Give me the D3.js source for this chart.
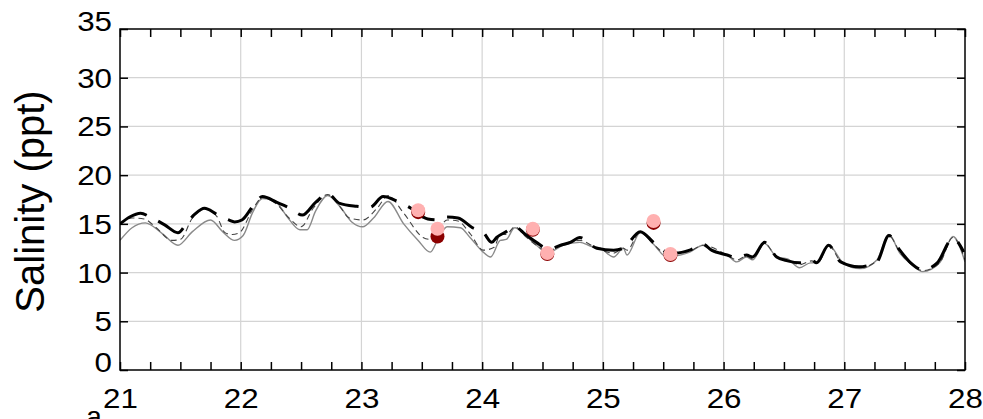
<!DOCTYPE html>
<html><head><meta charset="utf-8">
<script src="https://cdn.jsdelivr.net/npm/d3@7/dist/d3.min.js"></script>
<style>
html,body{margin:0;padding:0;background:#fff;}
svg{display:block;font-family:"Liberation Sans",Arial,sans-serif;}
</style></head>
<body>
<svg id="chart" width="983" height="419"></svg>
<script>
// ---- data ----
const xTicks = [21,22,23,24,25,26,27,28];
const yTicks = [0,5,10,15,20,25,30,35];
const yLabel = "Salinity (ppt)";

// thin solid gray series
const solidT = [21.00,21.10,21.21,21.35,21.48,21.60,21.75,21.85,21.95,22.02,22.10,22.18,22.28,22.38,22.49,22.55,22.62,22.72,22.82,22.92,23.01,23.10,23.22,23.35,23.47,23.57,23.64,23.71,23.82,23.90,24.00,24.07,24.15,24.20,24.27,24.36,24.45,24.54,24.67,24.81,24.90,24.98,25.09,25.17,25.20,25.31,25.42,25.53,25.60,25.72,25.83,25.89,26.03,26.11,26.19,26.24,26.34,26.44,26.53,26.63,26.72,26.78,26.87,26.99,27.13,27.27,27.37,27.46,27.55,27.65,27.79,27.90,28.00];
const solidV = [13.3,14.6,15.1,14.0,12.8,14.2,15.4,14.2,13.3,13.8,16.2,17.6,17.4,15.8,14.4,14.4,16.3,17.9,16.8,15.2,14.7,15.6,17.3,15.0,13.3,12.1,13.6,14.7,14.6,13.6,12.2,11.6,13.3,13.4,14.6,13.8,12.8,12.0,12.8,13.1,12.7,12.5,11.6,12.5,11.8,14.1,12.9,11.6,11.7,12.1,12.8,12.3,11.8,11.1,11.6,11.3,13.0,11.6,11.4,10.5,11.0,11.0,12.8,11.0,10.4,11.3,13.9,12.0,10.9,10.1,11.0,13.7,11.1];

// thin dashed series
const dashT = [21.00,21.10,21.20,21.30,21.43,21.50,21.60,21.70,21.80,21.87,21.93,21.99,22.10,22.18,22.30,22.40,22.50,22.60,22.72,22.82,22.90,23.01,23.13,23.22,23.35,23.51,23.57,23.63,23.71,23.80,23.90,24.01,24.10,24.15,24.20,24.27,24.36,24.45,24.54,24.67,24.81,24.95,25.09,25.17,25.20,25.31,25.42,25.53,25.72,25.83,26.03,26.11,26.19,26.24,26.34,26.44,26.53,26.63,26.73,26.78,26.87,26.98,27.13,27.27,27.37,27.46,27.55,27.65,27.79,27.90,28.00];
const dashV = [15.0,15.6,15.5,14.6,13.3,13.4,15.6,16.5,15.8,14.1,13.9,14.1,16.5,17.7,17.0,15.6,14.7,16.6,18.0,16.8,15.6,15.4,16.6,17.9,16.1,13.6,13.4,14.2,15.4,15.3,14.0,12.3,12.6,13.9,13.9,14.7,13.7,12.8,12.2,12.9,13.3,12.5,12.0,12.5,12.3,14.2,12.9,11.9,12.2,12.8,11.8,11.3,11.7,11.4,13.0,11.6,11.3,10.8,11.2,11.0,12.8,11.0,10.5,11.2,13.8,12.1,10.9,10.2,11.0,13.6,11.3];

// thick black dashed series
const thickT = [21.00,21.08,21.17,21.25,21.37,21.48,21.56,21.62,21.70,21.80,21.90,21.95,22.01,22.10,22.18,22.30,22.41,22.51,22.62,22.72,22.82,22.96,23.07,23.18,23.30,23.41,23.51,23.55,23.63,23.71,23.80,23.92,24.01,24.08,24.12,24.20,24.27,24.36,24.45,24.55,24.65,24.73,24.81,24.95,25.09,25.17,25.31,25.42,25.53,25.60,25.72,25.83,25.90,26.03,26.11,26.19,26.24,26.34,26.44,26.53,26.63,26.73,26.77,26.87,26.97,27.12,27.27,27.37,27.46,27.55,27.65,27.77,27.90,27.99];
const thickV = [15.0,15.7,16.1,15.7,14.9,14.1,15.2,16.0,16.6,16.0,15.4,15.2,15.4,16.8,17.8,17.2,16.6,15.9,17.2,18.1,17.1,16.8,16.7,17.8,17.3,16.6,15.7,15.5,15.4,15.7,15.6,14.6,14.1,13.1,13.6,14.2,14.7,13.9,13.1,12.4,12.8,13.1,13.6,12.5,12.3,12.5,14.2,13.1,12.1,12.0,12.3,12.9,12.3,11.8,11.5,11.8,11.6,13.1,11.6,11.2,11.0,11.3,11.0,12.8,11.1,10.6,11.1,13.8,12.3,11.0,10.3,11.0,13.5,12.1];

// observation points (dark red) and pink points
const obsT = [23.47,23.63,24.42,24.54,25.42,25.56];
const obsV = [16.2,13.7,14.4,11.9,15.1,11.8];
const pinkT = [23.47,23.63,24.42,24.54,25.42,25.56];
const pinkV = [16.4,14.5,14.5,12.0,15.3,11.9];

// ---- layout ----
const svg = d3.select("#chart");
const L = 120, T = 29, R = 965, B = 370;
const SX = 1.12; // horizontal stretch of tick-label glyphs
const x = d3.scaleLinear().domain([21,28]).range([L,R]);
const y = d3.scaleLinear().domain([0,35]).range([B,T]);

svg.append("defs").append("clipPath").attr("id","clip")
  .append("rect").attr("x",L).attr("y",T).attr("width",R-L).attr("height",B-T);

// grid
const grid = svg.append("g").attr("stroke","#d4d4d4").attr("stroke-width",1.2);
grid.selectAll(".gx").data(xTicks.slice(1,-1)).join("line")
  .attr("x1",d=>x(d)).attr("x2",d=>x(d)).attr("y1",T).attr("y2",B);
grid.selectAll(".gy").data(yTicks.slice(1,-1)).join("line")
  .attr("y1",d=>y(d)).attr("y2",d=>y(d)).attr("x1",L).attr("x2",R);

// lines
const plot = svg.append("g").attr("clip-path","url(#clip)");
const line = d3.line().x(d=>x(d[0])).y(d=>y(d[1])).curve(d3.curveMonotoneX);
const zip = (a,b)=>a.map((t,i)=>[t,b[i]]);

plot.append("path").datum(zip(solidT,solidV)).attr("d",line)
  .attr("fill","none").attr("stroke","#8a8a8a").attr("stroke-width",1.4);
plot.append("path").datum(zip(dashT,dashV)).attr("d",line)
  .attr("fill","none").attr("stroke","#444").attr("stroke-width",1.1)
  .attr("stroke-dasharray","6,4");
plot.append("path").datum(zip(thickT,thickV)).attr("d",line)
  .attr("fill","none").attr("stroke","#000").attr("stroke-width",3)
  .attr("stroke-dasharray","30,13");

plot.selectAll(".obs").data(zip(obsT,obsV)).join("circle")
  .attr("cx",d=>x(d[0])).attr("cy",d=>y(d[1])).attr("r",7).attr("fill","#8b0000");
plot.selectAll(".pink").data(zip(pinkT,pinkV)).join("circle")
  .attr("cx",d=>x(d[0])).attr("cy",d=>y(d[1])).attr("r",7).attr("fill","#ffb0b0");

// axes ticks
const minorX = d3.range(21,28.001,0.25);
const tickStyle = g => { g.select(".domain").remove(); g.selectAll("line").attr("stroke","#000").attr("stroke-width",1.5); };

svg.append("g").attr("transform",`translate(0,${B})`)
  .call(d3.axisBottom(x).tickValues(minorX).tickSize(-8).tickFormat(""))
  .call(tickStyle);
svg.append("g").attr("transform",`translate(0,${T})`)
  .call(d3.axisTop(x).tickValues(minorX).tickSize(-8).tickFormat(""))
  .call(tickStyle);
svg.append("g").attr("transform",`translate(${R},0)`)
  .call(d3.axisRight(y).tickValues(yTicks).tickSize(-8).tickFormat(""))
  .call(tickStyle);

const yAx = svg.append("g").attr("transform",`translate(${L},0)`)
  .call(d3.axisLeft(y).tickValues(yTicks).tickSize(-8).tickPadding(8))
  .call(tickStyle);
yAx.selectAll("text").attr("font-size",28).attr("fill","#000")
  .attr("font-family","'Liberation Sans',Arial,sans-serif")
  .attr("x",-8/SX).attr("transform",`scale(${SX},1)`)
  .attr("dy",(d)=> (d===0||d===35) ? "0.05em" : "0.34em");

const xAx = svg.append("g").attr("transform",`translate(0,${B})`)
  .call(d3.axisBottom(x).tickValues(xTicks).tickSize(0).tickPadding(18).tickFormat(d3.format("d")))
  .call(g=>g.select(".domain").remove());
xAx.selectAll("text").attr("font-size",28).attr("fill","#000")
  .attr("font-family","'Liberation Sans',Arial,sans-serif")
  .attr("transform",`scale(${SX},1)`);

// frame
svg.append("rect").attr("x",L).attr("y",T).attr("width",R-L).attr("height",B-T)
  .attr("fill","none").attr("stroke","#000").attr("stroke-width",1.5);

// y label
svg.append("text").attr("transform",`translate(44,${(T+B)/2+2}) rotate(-90)`)
  .attr("text-anchor","middle").attr("font-size",40).attr("fill","#000")
  .text(yLabel);

// cut-off glyph at the bottom edge (as in the reference)
svg.append("text").attr("x",94).attr("y",426).attr("text-anchor","middle")
  .attr("font-size",28).attr("fill","#000").text("a");
</script>
</body></html>
